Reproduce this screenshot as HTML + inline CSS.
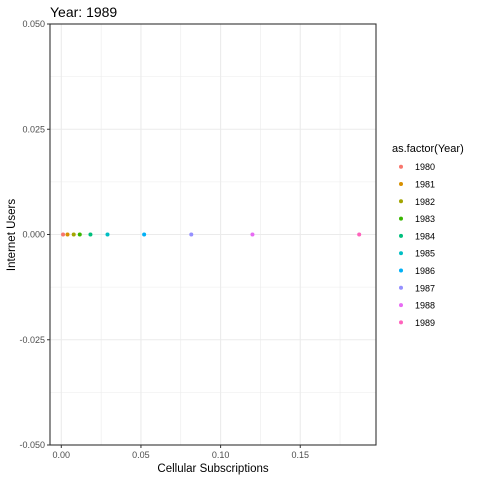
<!DOCTYPE html>
<html><head><meta charset="utf-8"><style>
body{margin:0;background:#fff}
svg text{font-family:"Liberation Sans",Arial,sans-serif}
</style></head><body>
<svg id="chart" width="480" height="480" xmlns="http://www.w3.org/2000/svg">
<rect width="480" height="480" fill="#fff"/>
<text x="50" y="17" font-size="14" fill="#000">Year: 1989</text>
<g id="grid"></g>
<g id="pts"></g>
<rect x="50" y="24" width="326" height="421" fill="none" stroke="#333" stroke-width="1.1"/>
<g id="axes"></g>
<text x="213" y="472" font-size="11.5" text-anchor="middle" fill="#000">Cellular Subscriptions</text>
<text transform="translate(15,235) rotate(-90)" font-size="11.5" text-anchor="middle" fill="#000">Internet Users</text>
<g id="legend"></g>
</svg>
<script>
const years=["1980","1981","1982","1983","1984","1985","1986","1987","1988","1989"];
const cellular=[0.0011,0.0039,0.0078,0.0116,0.0183,0.029,0.052,0.0816,0.120,0.187];
const internet=[0,0,0,0,0,0,0,0,0,0];
const colors=["#F8766D","#D89000","#A3A500","#39B600","#00BF7D","#00BFC4","#00B0F6","#9590FF","#E76BF3","#FF62BC"];
const xTicks=[0,0.05,0.10,0.15];
const xTickLabels=["0.00","0.05","0.10","0.15"];
const yTicks=[0.05,0.025,0,-0.025,-0.05];
const yTickLabels=["0.050","0.025","0.000","-0.025","-0.050"];
const NS="http://www.w3.org/2000/svg";
const xs=v=>61.3+v*1593;
const ys=v=>234.5-v*4210;
function mk(t,a,p){const e=document.createElementNS(NS,t);for(const k in a)e.setAttribute(k,a[k]);p.appendChild(e);return e;}
const grid=document.getElementById('grid'),axes=document.getElementById('axes');
for(let i=0;i<xTicks.length;i++){
 const x=xs(xTicks[i]);
 const g=mk('line',{x1:x,x2:x,y1:24,y2:445,stroke:'#ebebeb','stroke-width':1.1},grid);
 
 const xm=xs(xTicks[i]+0.025);
 if(xm<376){const m=mk('line',{x1:xm,x2:xm,y1:24,y2:445,stroke:'#ebebeb','stroke-width':0.6},grid);
 }
 mk('line',{x1:x,x2:x,y1:445,y2:448,stroke:'#333'},axes);
 const t=mk('text',{x:x,y:458,'font-size':9,'text-anchor':'middle',fill:'#4d4d4d'},axes);
 t.textContent=xTickLabels[i];
 
}
for(let i=0;i<yTicks.length;i++){
 const y=ys(yTicks[i]);
 const g=mk('line',{x1:50,x2:376,y1:y,y2:y,stroke:'#ebebeb','stroke-width':1.1},grid);
 
 if(i<yTicks.length-1){const ym=ys(yTicks[i]-0.0125);
 const m=mk('line',{x1:50,x2:376,y1:ym,y2:ym,stroke:'#ebebeb','stroke-width':0.6},grid);
 }
 mk('line',{x1:47,x2:50,y1:y,y2:y,stroke:'#333'},axes);
 const t=mk('text',{x:45,y:y+3,'font-size':9,'text-anchor':'end',fill:'#4d4d4d'},axes);
 t.textContent=yTickLabels[i];
 
}
const pts=document.getElementById('pts');
for(let i=0;i<years.length;i++){
 const c=mk('circle',{cx:xs(cellular[i]),cy:ys(internet[i]),r:2,fill:colors[i]},pts);
 
}
const lg=document.getElementById('legend');
const lt=mk('text',{x:392,y:152,'font-size':11,fill:'#000'},lg);
lt.textContent='as.factor(Year)';

for(let i=0;i<years.length;i++){
 const y=166.7+i*17.3;
 const g=mk('g',{},lg);
 
 mk('circle',{cx:401,cy:y,r:2,fill:colors[i]},g);
 const t=mk('text',{x:415,y:y+3.5,'font-size':9,fill:'#000'},g);
 t.textContent=years[i];
}
</script>
</body></html>
